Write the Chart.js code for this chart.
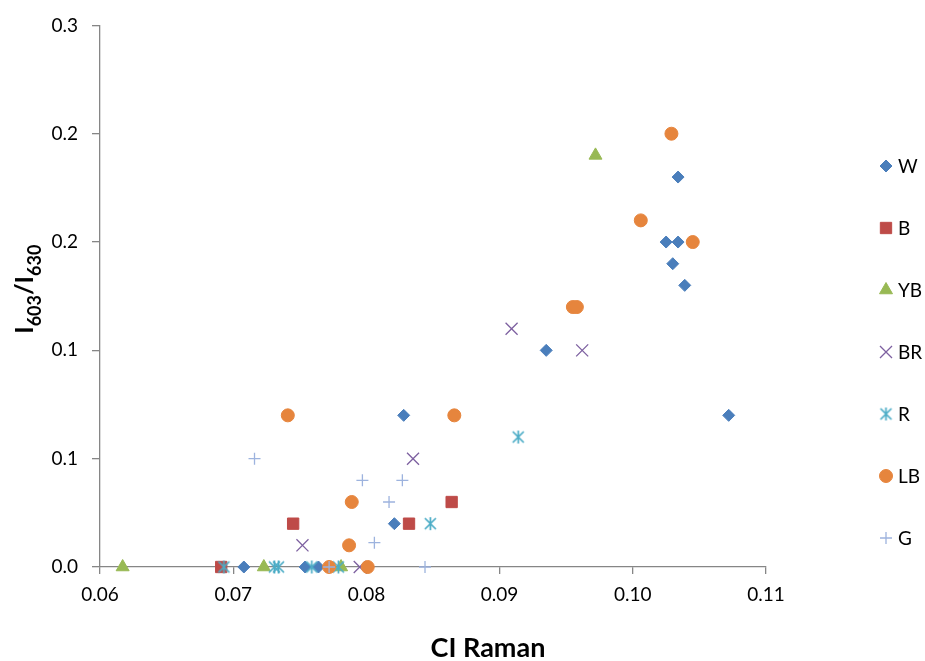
<!DOCTYPE html>
<html>
<head>
<meta charset="utf-8">
<script src="https://cdn.jsdelivr.net/npm/chart.js@4.4.1/dist/chart.umd.min.js"></script>
<style>
  body { margin: 0; background: #fff; }
  #wrap { width: 925px; height: 661px; position: relative; }
</style>
</head>
<body>
<div id="wrap"><canvas id="chart"></canvas></div>
<script>
// series values (x = CI Raman, y = I603/I630)
const seriesNames = ['W', 'B', 'YB', 'BR', 'R', 'LB', 'G'];

const wX = [0.0708, 0.0754, 0.0764, 0.0821, 0.0828, 0.0935, 0.1025, 0.1034, 0.1030, 0.1039, 0.1034, 0.1072];
const wY = [0, 0, 0, 0.024, 0.084, 0.120, 0.180, 0.180, 0.168, 0.156, 0.216, 0.084];

const bX = [0.0691, 0.0745, 0.0832, 0.0864];
const bY = [0, 0.024, 0.024, 0.036];

const ybX = [0.0617, 0.0723, 0.0781, 0.0972];
const ybY = [0, 0, 0, 0.228];

const brX = [0.0752, 0.0795, 0.0835, 0.0909, 0.0962];
const brY = [0.012, 0, 0.060, 0.132, 0.120];

const rX = [0.0693, 0.0731, 0.0734, 0.0759, 0.0779, 0.0848, 0.0914];
const rY = [0, 0, 0, 0, 0, 0.024, 0.072];

const lbX = [0.0741, 0.0772, 0.0787, 0.0789, 0.0801, 0.0866, 0.0955, 0.0958, 0.1006, 0.1029, 0.1045];
const lbY = [0.084, 0, 0.012, 0.036, 0, 0.084, 0.144, 0.144, 0.192, 0.240, 0.180];

const gX = [0.0716, 0.0772, 0.0797, 0.0806, 0.0817, 0.0827, 0.0844];
const gY = [0.060, 0, 0.048, 0.0135, 0.036, 0.048, 0];

const xTickLabels = ['0.06', '0.07', '0.08', '0.09', '0.10', '0.11'];
const yTickLabels = ['0.0', '0.1', '0.1', '0.2', '0.2', '0.3'];

const xTitle = 'CI Raman';

// excel style asterisk marker
function makeStar(color) {
  const c = document.createElement('canvas');
  c.width = 15; c.height = 15;
  const g = c.getContext('2d');
  g.strokeStyle = color;
  g.lineWidth = 1.7;
  g.beginPath();
  g.moveTo(7.5, 1); g.lineTo(7.5, 14);
  g.moveTo(2, 2); g.lineTo(13, 13);
  g.moveTo(13, 2); g.lineTo(2, 13);
  g.stroke();
  return c;
}

const toPoints = (xs, ys) => xs.map((x, i) => ({ x: x, y: ys[i] }));

const styles = [
  { color: '#4A7EBB', pointStyle: 'rectRot', radius: 6, borderWidth: 1 },
  { color: '#BE4B48', pointStyle: 'rect', radius: 8, borderWidth: 1 },
  { color: '#98B954', pointStyle: 'triangle', radius: 7.5, borderWidth: 1 },
  { color: '#7D60A0', pointStyle: 'crossRot', radius: 8.5, borderWidth: 1.3 },
  { color: '#4BACC6', pointStyle: makeStar('#4BACC6'), radius: 7, borderWidth: 1 },
  { color: '#E6853D', pointStyle: 'circle', radius: 6.5, borderWidth: 1 },
  { color: '#9DB3DE', pointStyle: 'cross', radius: 6, borderWidth: 1.3 }
];

const allData = [
  toPoints(wX, wY), toPoints(bX, bY), toPoints(ybX, ybY), toPoints(brX, brY),
  toPoints(rX, rY), toPoints(lbX, lbY), toPoints(gX, gY)
];

const datasets = seriesNames.map((name, i) => ({
  label: name,
  data: allData[i],
  pointStyle: styles[i].pointStyle,
  pointRadius: styles[i].radius,
  pointHoverRadius: styles[i].radius,
  pointBackgroundColor: styles[i].color,
  pointBorderColor: styles[i].color,
  pointBorderWidth: styles[i].borderWidth,
  showLine: false,
  clip: false,
  order: seriesNames.length - i
}));

// axis titles and legend drawn like the excel chart
const excelText = {
  id: 'excelText',
  afterDraw(chart) {
    const ctx = chart.ctx;
    const area = chart.chartArea;
    ctx.save();
    ctx.fillStyle = '#000';

    ctx.font = 'bold 27px Lato';
    ctx.textAlign = 'center';
    ctx.textBaseline = 'alphabetic';
    ctx.fillText(xTitle, 488, 657);

    // y title with subscripts
    const parts = [['I', 0], ['603', 1], ['/', 0], ['I', 0], ['630', 1]];
    const mainFont = 'bold 25px Lato';
    const subFont = 'bold 18px Lato';
    let total = 0;
    parts.forEach(p => {
      ctx.font = p[1] ? subFont : mainFont;
      total += ctx.measureText(p[0]).width;
    });
    ctx.translate(33, (area.top + area.bottom) / 2 - 7);
    ctx.rotate(-Math.PI / 2);
    ctx.textAlign = 'left';
    let cx = -total / 2;
    parts.forEach(p => {
      ctx.font = p[1] ? subFont : mainFont;
      ctx.fillText(p[0], cx, p[1] ? 8 : 0);
      cx += ctx.measureText(p[0]).width;
    });
    ctx.setTransform(1, 0, 0, 1, 0, 0);

    // legend
    ctx.font = '19px Lato';
    ctx.textBaseline = 'middle';
    ctx.textAlign = 'left';
    seriesNames.forEach((name, i) => {
      const y = 166 + i * 62;
      const st = styles[i];
      ctx.fillStyle = st.color;
      ctx.strokeStyle = st.color;
      ctx.lineWidth = st.borderWidth;
      Chart.helpers.drawPoint(ctx, {
        pointStyle: st.pointStyle, rotation: 0,
        radius: st.radius, borderWidth: st.borderWidth
      }, 886, y);
      ctx.fillStyle = '#000';
      ctx.fillText(name, 898, y + 1);
    });
    ctx.restore();
  }
};

const axisGray = '#868686';

new Chart(document.getElementById('chart'), {
  type: 'scatter',
  data: { datasets: datasets },
  options: {
    responsive: true,
    maintainAspectRatio: false,
    animation: false,
    layout: { padding: { top: 24, right: 159, bottom: 0, left: 0 } },
    plugins: {
      legend: { display: false },
      tooltip: { enabled: false }
    },
    scales: {
      x: {
        type: 'linear',
        min: 0.06,
        max: 0.11,
        afterFit(scale) { scale.height = 94; },
        border: { color: axisGray, width: 1.3 },
        grid: { drawOnChartArea: false, color: axisGray, tickLength: 7, lineWidth: 1.3 },
        ticks: {
          stepSize: 0.01,
          padding: 9,
          color: '#000',
          font: { size: 19, family: 'Lato' },
          maxRotation: 0,
          callback: (v, i) => xTickLabels[i]
        }
      },
      y: {
        min: 0,
        max: 0.3,
        afterFit(scale) { scale.width = 100; },
        border: { color: axisGray, width: 1.3 },
        grid: { drawOnChartArea: false, color: axisGray, tickLength: 8, lineWidth: 1.3 },
        ticks: {
          stepSize: 0.06,
          padding: 14,
          color: '#000',
          font: { size: 19, family: 'Lato' },
          callback: (v, i) => yTickLabels[i]
        }
      }
    }
  },
  plugins: [excelText]
});
</script>
</body>
</html>
